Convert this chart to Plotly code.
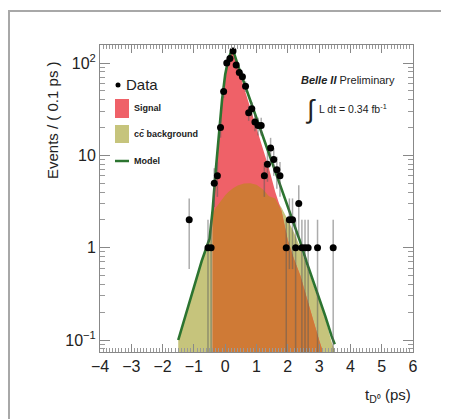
import numpy as np
import plotly.graph_objects as go

# data points (bin centre in ps, events per 0.1 ps)
data_t = [-1.15, -0.55, -0.45, -0.35, -0.25, -0.15, -0.05, 0.05, 0.15, 0.25, 0.35,
          0.45, 0.55, 0.65, 0.75, 0.85, 0.95, 1.05, 1.15, 1.25, 1.35, 1.45, 1.55,
          1.65, 1.75, 1.95, 2.05, 2.15, 2.25, 2.35, 2.45, 2.55, 2.65, 2.95, 3.45]
data_n = [2, 1, 1, 5, 6, 20, 49, 100, 112, 135, 95,
          79, 71, 56, 29, 32, 23, 21, 21, 6, 8, 12, 9,
          7, 6, 1, 2, 2, 1, 3, 1, 1, 1, 1, 1]

# fitted curves at these times
curve_t = [-1.5, -1.25, -1.0, -0.75, -0.5, -0.4, -0.3, -0.2, -0.1, 0.0, 0.1, 0.2, 0.25,
           0.4, 0.6, 0.8, 1.0, 1.2, 1.4, 1.6, 1.8, 2.0, 2.2, 2.4, 2.6, 2.8, 3.0,
           3.2, 3.4, 3.5]
model = [0.1, 0.19, 0.37, 0.72, 1.25, 2.6, 7, 18, 40, 75, 110, 135, 138,
         96, 61, 39, 25, 16, 10.4, 6.7, 4.3, 2.8, 1.8, 1.15, 0.7, 0.45, 0.28,
         0.18, 0.11, 0.09]
signal = [None, None, None, None, None, 2.4, 6.5, 17, 38, 72, 105, 130, 132,
          90, 54, 33, 19.7, 11.9, 7.2, 4.0, 2.5, 1.2, 0.75, 0.5, 0.3, 0.17, 0.1,
          0.06, 0.035, 0.03]
background = [0.1, 0.19, 0.37, 0.72, 1.25, 2.3, 2.7, 3.0, 3.4, 3.7, 4.0, 4.3, 4.4,
              4.7, 4.95, 5.0, 4.8, 4.3, 3.6, 3.4, 2.7, 2.0, 1.45, 1.0, 0.65, 0.42, 0.27,
              0.17, 0.095, 0.075]

# the page body adds an 8px margin, so the figure is 8px smaller than the window
OFF = 8
W, H = 449 - OFF, 419 - OFF
L, T = 100 - OFF, 45 - OFF
PW, PH = 313, 307
R, B = W - L - PW, H - T - PH


def px(x):
    # window pixel -> paper x
    return (x - 100) / PW


def py(y):
    # window pixel -> paper y
    return (352 - y) / PH


RED = "#ef6168"
OLIVE = "#c6c47c"
ORANGE = "#cf7a36"
GREEN = "#2c7430"
FLOOR = 1e-3

fig = go.Figure()

# background fill
fig.add_trace(go.Scatter(
    x=[curve_t[0]] + curve_t + [curve_t[-1]],
    y=[FLOOR] + background + [FLOOR],
    fill="toself", fillcolor=OLIVE, line=dict(width=0), mode="lines",
    hoverinfo="skip"))

# signal fill (starts with a vertical edge)
st = [t for t, s in zip(curve_t, signal) if s is not None]
sv = [s for s in signal if s is not None]
fig.add_trace(go.Scatter(
    x=[st[0]] + st + [st[-1]],
    y=[FLOOR] + sv + [FLOOR],
    fill="toself", fillcolor=RED, line=dict(width=0), mode="lines",
    hoverinfo="skip"))

# overlap of both
bv = [b for b, s in zip(background, signal) if s is not None]
ov = list(np.minimum(sv, bv))
fig.add_trace(go.Scatter(
    x=[st[0]] + st + [st[-1]],
    y=[FLOOR] + ov + [FLOOR],
    fill="toself", fillcolor=ORANGE, line=dict(width=0), mode="lines",
    hoverinfo="skip"))

# total model
fig.add_trace(go.Scatter(
    x=curve_t, y=model, mode="lines",
    line=dict(color=GREEN, width=2.6), hoverinfo="skip"))

# data with sqrt(N) errors
n = np.array(data_n, dtype=float)
err = np.sqrt(n)
err_minus = np.minimum(err, n - FLOOR)
fig.add_trace(go.Scatter(
    x=data_t, y=data_n, mode="markers",
    marker=dict(color="black", size=7),
    error_y=dict(type="data", array=list(err), arrayminus=list(err_minus),
                 color="rgba(90,90,90,0.5)", thickness=1.5, width=0)))

# hand-made legend and labels
shapes = [
    dict(type="rect", xref="paper", yref="paper", x0=px(9), x1=px(448), y0=py(430), y1=py(11),
         line=dict(color="#a8a8a8", width=2), layer="below"),
    dict(type="circle", xref="paper", yref="paper", x0=px(115.5), x1=px(120.5), y0=py(87.5), y1=py(82.5),
         fillcolor="black", line=dict(width=0)),
    dict(type="rect", xref="paper", yref="paper", x0=px(115), x1=px(129), y0=py(118), y1=py(99),
         fillcolor=RED, line=dict(width=0)),
    dict(type="rect", xref="paper", yref="paper", x0=px(115), x1=px(129), y0=py(143), y1=py(125),
         fillcolor=OLIVE, line=dict(width=0)),
    dict(type="line", xref="paper", yref="paper", x0=px(115), x1=px(129), y0=py(161), y1=py(161),
         line=dict(color=GREEN, width=2.5)),
]

FONT = "Liberation Sans, Arial, sans-serif"
small = dict(family=FONT, size=9, color="#222")
annotations = [
    dict(text="Data", x=px(124), y=py(85), font=dict(family=FONT, size=15, color="#222")),
    dict(text="<b>Signal</b>", x=px(132), y=py(108), font=small),
    dict(text="<b>cc\u0304 background</b>", x=px(132), y=py(134), font=small),
    dict(text="<b>Model</b>", x=px(132), y=py(161), font=small),
    dict(text="<b><i>Belle II</i></b> Preliminary", x=px(397), y=py(80), xanchor="right",
         font=dict(family=FONT, size=11, color="#222")),
    dict(text="\u222b", x=px(303), y=py(109), font=dict(family=FONT, size=26, color="#222")),
    dict(text="L dt = 0.34 fb<sup>-1</sup>", x=px(317), y=py(108),
         font=dict(family=FONT, size=10.5, color="#222")),
    dict(text="Events / ( 0.1 ps )", x=px(52), y=py(120), xanchor="center", textangle=-90,
         font=dict(family=FONT, size=15, color="#222")),
    dict(text="t<sub>D\u2070</sub> (ps)", x=1.0, y=py(395), xanchor="right",
         font=dict(family=FONT, size=15, color="#222")),
]
for a in annotations:
    a.setdefault("xref", "paper")
    a.setdefault("yref", "paper")
    a.setdefault("xanchor", "left")
    a.setdefault("yanchor", "middle")
    a["showarrow"] = False

fig.update_layout(
    width=W, height=H,
    margin=dict(l=L, r=R, t=T, b=B),
    paper_bgcolor="white", plot_bgcolor="white",
    showlegend=False,
    font=dict(family=FONT, size=16, color="#222"),
    shapes=shapes, annotations=annotations,
)
fig.update_xaxes(
    range=[-4, 6], dtick=1, tick0=0, ticks="inside", ticklen=8, tickcolor="#888",
    showline=True, linecolor="#888", mirror="ticks", showgrid=False, zeroline=False,
    minor=dict(ticks="inside", ticklen=4, dtick=0.1, tick0=0, tickcolor="#999", showgrid=False),
)
fig.update_yaxes(
    type="log", range=[-1.13, 2.195],
    tickvals=[0.1, 1, 10, 100], ticktext=["10<sup>\u22121</sup>", "1", "10", "10<sup>2</sup>"],
    ticks="inside", ticklen=10, tickcolor="#888",
    showline=True, linecolor="#888", mirror="ticks", showgrid=False, zeroline=False,
    minor=dict(ticks="inside", ticklen=5, dtick="D1", tickcolor="#999", showgrid=False),
)

fig.write_html("out.html")
